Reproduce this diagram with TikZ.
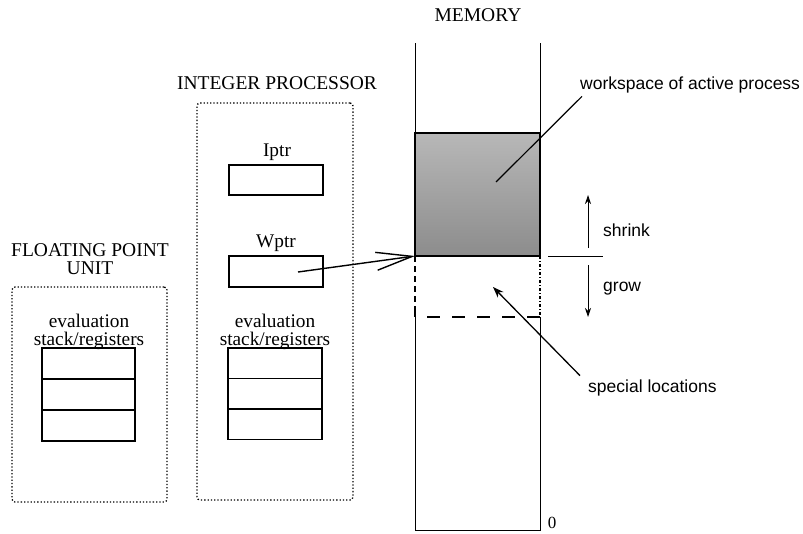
\documentclass[tikz,border=0pt]{standalone}
\usepackage{fontspec}
\setmainfont{Liberation Serif}
\newfontfamily\lsans{Liberation Sans}
\usetikzlibrary{arrows.meta}
\tikzset{
  title/.style={font=\fontsize{19.5}{18}\selectfont, align=center, inner sep=0pt},
  lab/.style={font=\fontsize{19.3}{20}\selectfont, inner sep=0pt},
  slab/.style={font=\lsans\fontsize{17.5}{18}\selectfont, inner sep=0pt},
  cell/.style={draw, line width=1.1pt, minimum width=94pt, minimum height=30.5pt, inner sep=0pt},
  unitbox/.style={draw, dotted, line width=1.3pt, rounded corners=3pt, inner sep=0pt},
  memline/.style={line width=0.9pt},
}
\begin{document}
\begin{tikzpicture}[x=1pt,y=-1pt]
\useasboundingbox (0,0) rectangle (803,533);
% titles
\node[title] (memt) at (478,15) {MEMORY};
\node[title] (ipt) at (277,83) {INTEGER PROCESSOR};
\node[title] (fpt) at (90,259) {FLOATING POINT\\UNIT};
% integer processor
\node[unitbox, minimum width=156pt, minimum height=397pt] (ip) at (275,301.5) {};
\node[lab] (iptrl) at (277,152) {Iptr};
\node[cell, minimum height=30pt] (iptr) at (276,180) {};
\node[lab] (wptrl) at (276,243) {Wptr};
\node[cell, minimum height=31pt] (wptr) at (276,271.5) {};
\node[lab] (ie1) at (275,321) {evaluation};
\node[lab] (ie2) at (275,341) {stack/registers};
\node[cell] (is1) at (275,363.2) {};
\node[cell] (is2) at (275,393.7) {};
\node[cell] (is3) at (275,424.2) {};
% floating point unit
\node[unitbox, minimum width=155pt, minimum height=215pt] (fp) at (89.5,394.5) {};
\node[lab] (fe1) at (89,321) {evaluation};
\node[lab] (fe2) at (89,341) {stack/registers};
\node[cell, minimum width=93pt, minimum height=31pt] (fs1) at (88.5,363.5) {};
\node[cell, minimum width=93pt, minimum height=31pt] (fs2) at (88.5,394.5) {};
\node[cell, minimum width=93pt, minimum height=31pt] (fs3) at (88.5,425.5) {};
% memory
\coordinate (mtl) at (415,43);
\coordinate (mtr) at (540,43);
\coordinate (mbl) at (415,530);
\coordinate (mbr) at (540,530);
\shade[top color=black!28, middle color=black!72, bottom color=black!45] (415,133) rectangle (540,256);
\node[draw, line width=2.4pt, outer sep=0pt, minimum width=125pt, minimum height=123pt, inner sep=0pt] (ws) at (477.5,194.5) {};
\draw[memline] (mtl) -- (ws.north west);
\draw[memline] (mtr) -- (ws.north east);
\coordinate (dl) at (415,317);
\coordinate (dr) at (540,317);
\draw[line width=1.6pt, dash pattern=on 6pt off 4pt] (ws.south west) -- (dl);
\draw[line width=1.4pt, dash pattern=on 3pt off 2pt on 1pt off 2pt] (ws.south east) -- (dr);
\draw[line width=2.4pt, dash pattern=on 13pt off 12pt] ([xshift=12pt]dl) -- (dr);
\draw[line width=2.4pt] (415,312) -- (dl);
\draw[memline] (dl) -- (mbl) -- (mbr) -- (dr);
\node[lab, font=\fontsize{17}{18}\selectfont] (zero) at (552,523) {0};
% Wptr pointer
\coordinate (wps) at (298,272);
\draw[line width=1.4pt, -{Straight Barb[length=36pt, width=18pt, line width=1.4pt]}] (wps) -- (ws.south west);
% shrink / grow
\coordinate (sepa) at (548,256);
\coordinate (sepb) at (603,256);
\draw[memline] (sepa) -- (sepb);
\coordinate (sh0) at (588,248);
\coordinate (sh1) at (588,195);
\coordinate (gr0) at (588,265);
\coordinate (gr1) at (588,317);
\draw[memline, -{Stealth[length=9pt, width=6pt]}] (sh0) -- (sh1);
\draw[memline, -{Stealth[length=9pt, width=6pt]}] (gr0) -- (gr1);
\node[slab, anchor=west] (shr) at (603,230) {shrink};
\node[slab, anchor=west] (grw) at (603,289) {grow};
% labels
\node[slab, anchor=west] (wst) at (580,85) {workspace of active process};
\coordinate (wsp) at (496,182);
\draw[line width=1.2pt] ([xshift=2pt,yshift=-3pt]wst.south west) -- (wsp);
\node[slab, anchor=west] (spl) at (588,388) {special locations};
\coordinate (spp) at (493,287);
\draw[line width=1.3pt, -{Stealth[length=11pt, width=8pt]}] ([xshift=-8pt,yshift=4pt]spl.north west) -- (spp);
\end{tikzpicture}
\end{document}
